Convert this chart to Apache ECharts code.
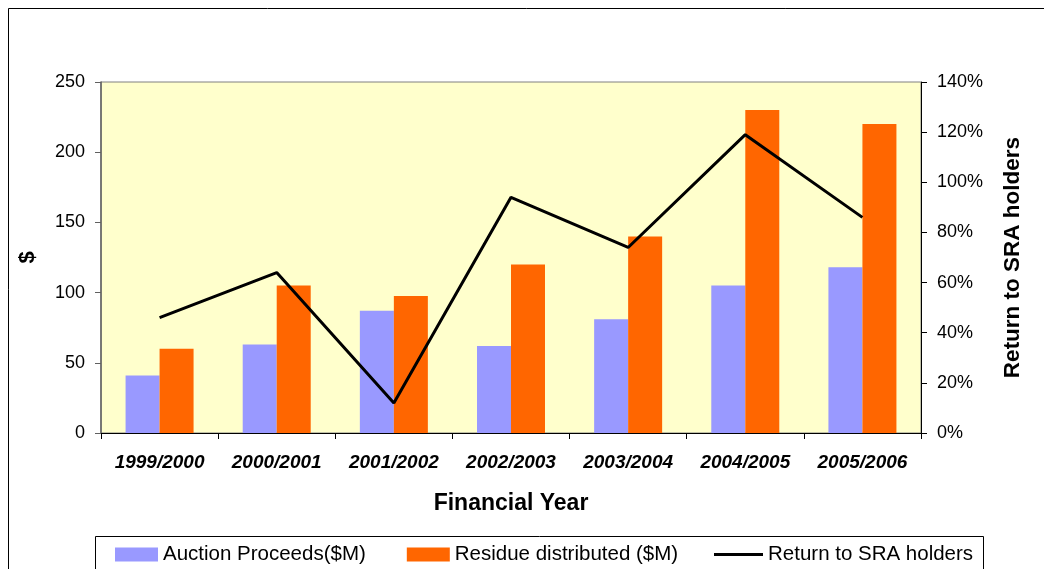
<!DOCTYPE html>
<html>
<head>
<meta charset="utf-8">
<script src="https://cdn.jsdelivr.net/npm/echarts@6/dist/echarts.min.js"></script>
<style>
  html, body { margin: 0; padding: 0; background: #ffffff; }
  #chart { width: 1044px; height: 569px; }
</style>
</head>
<body>
<div id="chart"></div>
<script>
// Financial years on the category axis
const years = ['1999/2000', '2000/2001', '2001/2002', '2002/2003', '2003/2004', '2004/2005', '2005/2006'];
// Auction proceeds, $M
const auctionProceeds = [41, 63, 87, 62, 81, 105, 118];
// Residue distributed, $M
const residueDistributed = [60, 105, 97.5, 120, 140, 230, 220];
// Return to SRA holders, as a fraction
const returnToHolders = [0.46, 0.64, 0.12, 0.94, 0.74, 1.19, 0.86];
// Tick ranges
const dollarTicks = { min: 0, max: 250, interval: 50 };
const percentTicks = { min: 0, max: 1.4, interval: 0.2 };

const FONT = "'Liberation Sans', Arial, sans-serif";
const legendText = { fontFamily: FONT, fontSize: 20.5, color: '#000', padding: [0, 0, 0, 0] };
const chart = echarts.init(document.getElementById('chart'), null, { renderer: 'canvas' });

chart.setOption({
  backgroundColor: '#ffffff',
  animation: false,
  textStyle: { fontFamily: FONT, color: '#000' },
  graphic: [
    // outer chart frame
    { type: 'rect', silent: true, z: -10,
      shape: { x: 8.5, y: 8.5, width: 1100, height: 700 },
      style: { fill: 'none', stroke: '#000', lineWidth: 1 } },
    // legend frame
    { type: 'rect', silent: true, z: -5,
      shape: { x: 95.5, y: 536.5, width: 888, height: 100 },
      style: { fill: '#fff', stroke: '#000', lineWidth: 1 } }
  ],
  grid: {
    left: 101, right: 123, top: 82, bottom: 136,
    show: true, backgroundColor: '#FFFFCC', borderColor: '#808080', borderWidth: 1
  },
  legend: [
    {
      left: 115, top: 544, padding: 0,
      itemWidth: 43, itemHeight: 14, itemGap: 41,
      textStyle: legendText,
      data: [
        { name: 'Auction Proceeds($M)', icon: 'rect' },
        { name: 'Residue distributed ($M)', icon: 'rect' }
      ]
    },
    {
      left: 714, top: 544, padding: 0,
      itemWidth: 49, itemHeight: 3,
      textStyle: legendText,
      data: [{ name: 'Return to SRA holders', icon: 'rect' }]
    }
  ],
  xAxis: {
    type: 'category', data: years, boundaryGap: true,
    name: 'Financial Year', nameLocation: 'middle', nameGap: 59,
    nameTextStyle: { fontFamily: FONT, fontSize: 23, fontWeight: 'bold', color: '#000' },
    axisLine: { lineStyle: { color: '#000', width: 1 } },
    axisTick: { show: true, alignWithLabel: false, length: 6, lineStyle: { color: '#000' } },
    axisLabel: { margin: 20, fontFamily: FONT, fontSize: 19, fontWeight: 'bold', fontStyle: 'italic', color: '#000' },
    splitLine: { show: false }
  },
  yAxis: [
    {
      type: 'value', min: dollarTicks.min, max: dollarTicks.max, interval: dollarTicks.interval,
      name: '$', nameLocation: 'middle', nameGap: 62, nameRotate: 90,
      nameTextStyle: { fontFamily: FONT, fontSize: 22, fontWeight: 'bold', color: '#000' },
      axisLine: { show: true, lineStyle: { color: '#606060', width: 1.5 } },
      axisTick: { show: true, length: 6, lineStyle: { color: '#606060' } },
      axisLabel: { margin: 16, fontFamily: FONT, fontSize: 18, color: '#000' },
      splitLine: { show: false }
    },
    {
      type: 'value', position: 'right', min: percentTicks.min, max: percentTicks.max, interval: percentTicks.interval,
      name: 'Return to SRA holders', nameLocation: 'middle', nameGap: 80, nameRotate: 90,
      nameTextStyle: { fontFamily: FONT, fontSize: 22.5, fontWeight: 'bold', color: '#000' },
      axisLine: { show: true, lineStyle: { color: '#000', width: 1 } },
      axisTick: { show: true, length: 6, lineStyle: { color: '#000' } },
      axisLabel: {
        margin: 16, fontFamily: FONT, fontSize: 18, color: '#000',
        formatter: v => Math.round(v * 100) + '%'
      },
      splitLine: { show: false }
    }
  ],
  series: [
    {
      name: 'Auction Proceeds($M)', type: 'bar', data: auctionProceeds,
      barWidth: 34, barGap: '0%', itemStyle: { color: '#9999FF' }
    },
    {
      name: 'Residue distributed ($M)', type: 'bar', data: residueDistributed,
      barWidth: 34, barGap: '0%', itemStyle: { color: '#FF6600' }
    },
    {
      name: 'Return to SRA holders', type: 'line', yAxisIndex: 1, data: returnToHolders,
      symbol: 'none', lineStyle: { color: '#000', width: 3 }, itemStyle: { color: '#000' },
      z: 5
    }
  ]
});
</script>
</body>
</html>
